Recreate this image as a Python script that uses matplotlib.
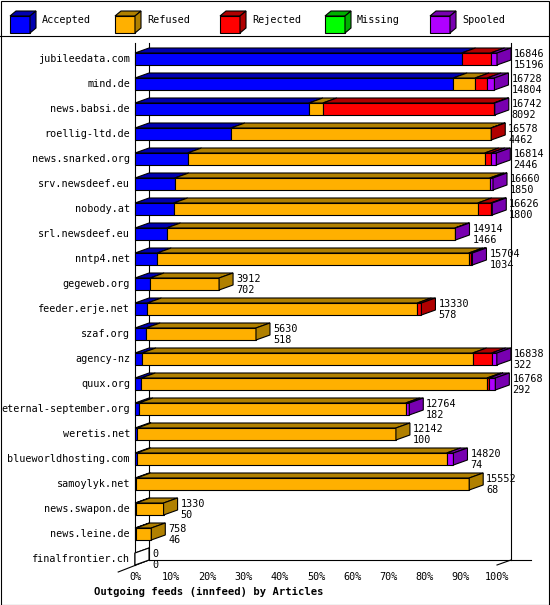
import matplotlib
matplotlib.use("Agg")
import matplotlib.pyplot as plt
from matplotlib.patches import Polygon, Rectangle
from matplotlib.lines import Line2D

hosts = ["jubileedata.com","mind.de","news.babsi.de","roellig-ltd.de","news.snarked.org",
         "srv.newsdeef.eu","nobody.at","srl.newsdeef.eu","nntp4.net","gegeweb.org",
         "feeder.erje.net","szaf.org","agency-nz","quux.org","eternal-september.org",
         "weretis.net","blueworldhosting.com","samoylyk.net","news.swapon.de","news.leine.de",
         "finalfrontier.ch"]
totals   = [16846,16728,16742,16578,16814,16660,16626,14914,15704,3912,13330,5630,16838,16768,12764,12142,14820,15552,1330,758,0]
accepted = [15196,14804,8092,4462,2446,1850,1800,1466,1034,702,578,518,322,292,182,100,74,68,50,46,0]
refused  = [0,1020,650,12100,13830,14660,14150,13420,14500,3210,12560,5112,15390,16090,12415,12042,14430,15484,1280,712,0]
rejected = [1350,560,7960,16,280,0,605,0,120,0,192,0,884,93,0,0,0,0,0,0,0]
missing  = [0]*21
spooled  = [300,344,40,0,258,150,71,28,50,0,0,0,242,293,167,0,316,0,0,0,0]
series_names = ["Accepted","Refused","Rejected","Missing","Spooled"]
xticks = [0,10,20,30,40,50,60,70,80,90,100]

front = ["#0000FF","#FFB000","#FF0000","#00FF00","#B000FF"]
dark  = ["#0000B0","#B08000","#B00000","#00B000","#7800B0"]

W, H = 550, 605
fig = plt.figure(figsize=(W/100, H/100), dpi=100)
FONT = "DejaVu Sans Mono"
fs = 7.3

ax = fig.add_axes([135/W, 1-565/H, 362/W, 525/H])
ax.set_xlim(0, 100)
ax.set_ylim(20.24, -0.76)
ax.axis("off")

pxx = 100/362.0   # data units per px in x
pxy = 1/25.0      # data units per px in y
dx, dy = 14*pxx, 5*pxy
h = 12*pxy
lw = 0.8
maxt = max(totals)
K = dict(clip_on=False, lw=lw, ec="black")

# frame lines
ax.add_line(Line2D([0, 0], [-0.76+3*pxy, 20.24], color="black", lw=lw, clip_on=False))
ax.add_line(Line2D([dx, dx], [-0.76+3*pxy, 20.24-dy], color="black", lw=lw, clip_on=False))
ax.add_line(Line2D([100+dx, 100+dx], [-0.76+3*pxy, 20.24-dy], color="black", lw=lw, clip_on=False))
ax.add_line(Line2D([dx, 100+dx+20*pxx], [20.24-dy, 20.24-dy], color="black", lw=lw, clip_on=False))
ax.add_line(Line2D([-dx*1.2, dx], [20.24+dy*1.4, 20.24-dy], color="black", lw=lw, clip_on=False))
ax.add_line(Line2D([100, 100+dx], [20.24, 20.24-dy], color="black", lw=lw, clip_on=False))

series = [accepted, refused, rejected, missing, spooled]
for r in range(len(hosts)):
    t = totals[r]
    top, bot = r - h/2, r + h/2
    x = 0.0
    last = None
    for s in range(5):
        v = series[s][r]
        if v <= 0:
            continue
        w = v / maxt * 100
        ax.add_patch(Rectangle((x, top), w, h, fc=front[s], zorder=2, **K))
        ax.add_patch(Polygon([(x, top), (x+w, top), (x+w+dx, top-dy), (x+dx, top-dy)],
                             fc=dark[s], zorder=2, **K))
        x += w
        last = s
    fc = dark[last] if last is not None else "white"
    ax.add_patch(Polygon([(x, top), (x, bot), (x+dx, bot-dy), (x+dx, top-dy)],
                         fc=fc, zorder=3, **K))
    if last is None:
        ax.add_patch(Polygon([(0, top), (0, bot), (dx, bot-dy), (dx, top-dy)],
                             fc="white", zorder=3, **K))
    ax.text(x+dx+3*pxx, r-5*pxy, str(t), fontsize=fs, family=FONT, va="center", ha="left", clip_on=False)
    ax.text(x+dx+3*pxx, r+6*pxy, str(accepted[r]), fontsize=fs, family=FONT, va="center", ha="left", clip_on=False)
    ax.text(-5*pxx, r, hosts[r], fontsize=fs, family=FONT, va="center", ha="right", clip_on=False)

for tk in xticks:
    ax.text(tk, 20.24+12*pxy, f"{tk}%", fontsize=fs, family=FONT, ha="center", va="center", clip_on=False)
ax.text(0.38, 1-592/H, "Outgoing feeds (innfeed) by Articles", transform=fig.transFigure,
        fontsize=7.6, family=FONT, weight="bold", ha="center", va="center")

# border and legend separator
fig.add_artist(Rectangle((0.5/W, 0.5/H), (W-1.5)/W, (H-1.5)/H, transform=fig.transFigure,
                         fill=False, ec="black", lw=lw))
fig.add_artist(Line2D([0, 1], [1-36/H, 1-36/H], transform=fig.transFigure, color="black", lw=lw))

for i, name in enumerate(series_names):
    x0 = 10 + i*105
    y0 = 11
    bw, bh, d, e = 20, 17, 6, 5
    def P(pts):
        return [((px)/W, 1-(py)/H) for px, py in pts]
    fig.add_artist(Polygon(P([(x0, y0+e), (x0+bw, y0+e), (x0+bw, y0+e+bh), (x0, y0+e+bh)]),
                           transform=fig.transFigure, fc=front[i], ec="black", lw=lw))
    fig.add_artist(Polygon(P([(x0, y0+e), (x0+d, y0), (x0+bw+d, y0), (x0+bw, y0+e)]),
                           transform=fig.transFigure, fc=dark[i], ec="black", lw=lw))
    fig.add_artist(Polygon(P([(x0+bw, y0+e), (x0+bw+d, y0), (x0+bw+d, y0+bh), (x0+bw, y0+e+bh)]),
                           transform=fig.transFigure, fc=dark[i], ec="black", lw=lw))
    fig.text((x0+32)/W, 1-20/H, name, fontsize=fs, family=FONT, va="center", ha="left")

fig.savefig("out.png", dpi=100)
